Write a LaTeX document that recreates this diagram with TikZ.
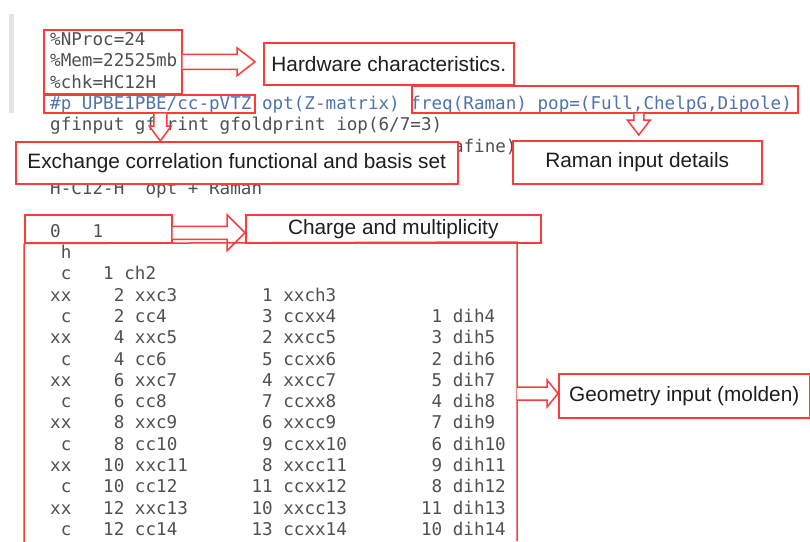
\documentclass[tikz,border=0pt]{standalone}
\usepackage{fontspec}
\setmainfont{Liberation Sans}
\newfontfamily\codefont{DejaVu Sans Mono}
\usetikzlibrary{calc,positioning}
\definecolor{boxred}{HTML}{FF3A3A}
\definecolor{codegrey}{HTML}{505050}
\definecolor{codeblue}{HTML}{4E73AD}
\definecolor{inkblack}{HTML}{1E1E1E}
\definecolor{barbg}{HTML}{E4E4E4}

\tikzset{
  code/.style={anchor=base west, inner sep=0, text=codegrey,
    font=\codefont\fontsize{17.6}{21}\selectfont},
  frame/.style={draw=boxred, line width=1.5pt, inner sep=0, anchor=north west},
  tag/.style={frame, fill=white, text=inkblack, font=\fontsize{20.8}{25}\selectfont},
  arrowline/.style={draw=boxred, line width=1.5pt, fill=white, line join=miter},
}

% hollow block arrows: tail, tip, half shaft, half head, head length
\newcommand{\rightblock}[5]{%
  \draw[arrowline] ($(#1)+(0,-#3)$) -- ($(#2)+(-#5,-#3)$) -- ($(#2)+(-#5,-#4)$)
    -- (#2) -- ($(#2)+(-#5,#4)$) -- ($(#2)+(-#5,#3)$) -- ($(#1)+(0,#3)$);}
\newcommand{\downblock}[5]{%
  \draw[arrowline] ($(#1)+(-#3,0)$) -- ($(#2)+(-#3,-#5)$) -- ($(#2)+(-#4,-#5)$)
    -- (#2) -- ($(#2)+(#4,-#5)$) -- ($(#2)+(#3,-#5)$) -- ($(#1)+(#3,0)$);}

\begin{document}
\begin{tikzpicture}[x=1pt, y=-1pt]
  \useasboundingbox (0,0) rectangle (810,541);
  % editor margin
  \fill [barbg] (9,14) rectangle (14,113);

  % input file
  \node[code] (nproc) at (50,45.5) {\%NProc=24};
  \node[code] (mem) at (50,66.8) {\%Mem=22525mb};
  \node[code] (chk) at (50,88.1) {\%chk=HC12H};
  \node[code, text=codeblue] (route) at (50,109.4)
    {\#p UPBE1PBE/cc-pVTZ opt(Z-matrix) freq(Raman) pop=(Full,ChelpG,Dipole)};
  \node[code] (gfin) at (50,130.7) {gfinput gfprint gfoldprint iop(6/7=3)};
  \node[code] (afine) at (452.8,152) {afine)};
  \node[code] (title) at (50,194.6) {H-C12-H~~opt + Raman};
  \node[code] (chmult) at (50,237.2) {0~~~1};
  \foreach \ln [count=\k from 10] in {
      ~h,
      ~c~~~1~ch2,
      xx~~~~2~xxc3~~~~~~~~1~xxch3,
      ~c~~~~2~cc4~~~~~~~~~3~ccxx4~~~~~~~~~1~dih4,
      xx~~~~4~xxc5~~~~~~~~2~xxcc5~~~~~~~~~3~dih5,
      ~c~~~~4~cc6~~~~~~~~~5~ccxx6~~~~~~~~~2~dih6,
      xx~~~~6~xxc7~~~~~~~~4~xxcc7~~~~~~~~~5~dih7,
      ~c~~~~6~cc8~~~~~~~~~7~ccxx8~~~~~~~~~4~dih8,
      xx~~~~8~xxc9~~~~~~~~6~xxcc9~~~~~~~~~7~dih9,
      ~c~~~~8~cc10~~~~~~~~9~ccxx10~~~~~~~~6~dih10,
      xx~~~10~xxc11~~~~~~~8~xxcc11~~~~~~~~9~dih11,
      ~c~~~10~cc12~~~~~~~11~ccxx12~~~~~~~~8~dih12,
      xx~~~12~xxc13~~~~~~10~xxcc13~~~~~~~11~dih13,
      ~c~~~12~cc14~~~~~~~13~ccxx14~~~~~~~10~dih14}
    \node[code] (row\k) at (50,{45.5+21.3*\k}) {\ln};

  % frames round the input
  \node[frame, minimum width=138, minimum height=64] (hwbox) at (43,29) {};
  \node[frame, minimum width=211, minimum height=18] (upbe) at (43,94) {};
  \node[frame, minimum width=386, minimum height=27] (freq) at (411,85) {};
  \node[frame, minimum width=147, minimum height=28] (zeroone) at (24,214) {};

  % labels
  \node[tag, minimum width=250, minimum height=42] (hwlab) at (263,42) {Hardware characteristics.};
  \node[tag, minimum width=442, minimum height=42] (exch) at (15,141) {Exchange correlation functional and basis set};
  \node[tag, minimum width=249, minimum height=43] (raman) at (512,140) {Raman input details};
  \node[tag, minimum width=295, minimum height=28] (charge) at (245,214) {Charge and multiplicity};
  \node[tag, minimum width=251, minimum height=44] (geomlab) at (558,373) {Geometry input (molden)};

  % arrows
  \coordinate (hwtip) at ($(hwbox.east -| hwlab.west)+(-8,0)$);
  \rightblock{hwbox.east}{hwtip}{7.5}{14}{18}
  \coordinate (upbetail) at ($(upbe.south)+(11,0)$);
  \coordinate (upbetip) at (upbetail |- exch.north);
  \downblock{upbetail}{upbetip}{6.5}{11}{15}
  \coordinate (freqtail) at ($(freq.south)+(34,0)$);
  \coordinate (freqtip) at ($(freqtail |- raman.north)+(0,-5)$);
  \downblock{freqtail}{freqtip}{5}{11.5}{15}
  \coordinate (chtail) at ($(zeroone.east)+(0,4)$);
  \coordinate (chtip) at (chtail -| charge.west);
  \rightblock{chtail}{chtip}{6.5}{18}{18}

  % geometry block
  \coordinate (geomtop) at (517,242);
  \draw[draw=boxred, line width=1.5pt] (zeroone.south west) -- ++(0,299)
    (zeroone.south west) -- (geomtop) -- ++(0,299);
  \coordinate (geomright) at (517,393.5);
  \coordinate (geomtip) at (geomright -| geomlab.west);
  \rightblock{geomright}{geomtip}{6.5}{13.5}{11}
\end{tikzpicture}
\end{document}
